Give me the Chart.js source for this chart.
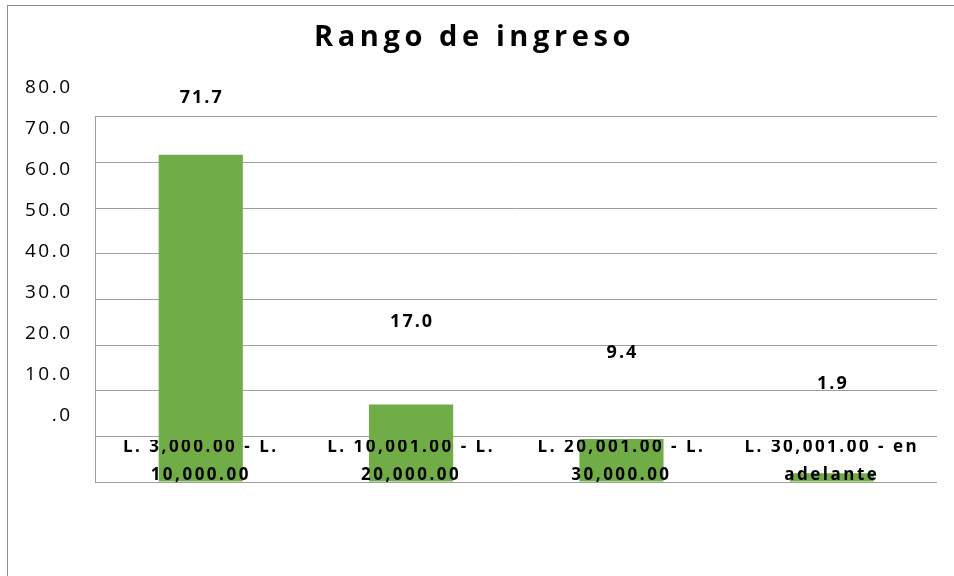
<!DOCTYPE html>
<html>
<head>
<meta charset="utf-8">
<script src="https://cdn.jsdelivr.net/npm/chart.js@4/dist/chart.umd.min.js"></script>
<style>
  html, body { margin: 0; padding: 0; background: #ffffff; overflow: hidden; }
  #wrap { position: relative; width: 954px; height: 576px; }
  #frame { position: absolute; left: 7px; top: 5px; width: 1100px; height: 700px; border: 1px solid #8c8c8c; box-sizing: border-box; }
  #c { position: absolute; left: 0; top: 0; }
</style>
</head>
<body>
<div id="wrap">
  <div id="frame"></div>
  <canvas id="c" width="954" height="576"></canvas>
</div>
<script>
// ---- data ----
const categories = [
  ["L. 3,000.00 - L.", "10,000.00"],
  ["L. 10,001.00 - L.", "20,000.00"],
  ["L. 20,001.00 - L.", "30,000.00"],
  ["L. 30,001.00 - en", "adelante"]
];
const values = [71.7, 17.0, 9.4, 1.9];
const valueLabels = ["71.7", "17.0", "9.4", "1.9"];
const tickValues = [0, 10, 20, 30, 40, 50, 60, 70, 80];
const tickLabels = [".0", "10.0", "20.0", "30.0", "40.0", "50.0", "60.0", "70.0", "80.0"];
const chartTitle = "Rango de ingreso";

const FONT = "'Open Sans', 'Noto Sans', sans-serif";
const GRID = '#9e9e9e';

const spacingPlugin = {
  id: 'spacing',
  beforeDraw(chart) { chart.ctx.letterSpacing = '4.6px'; },
  afterDatasetsDraw(chart) {
    const ctx = chart.ctx;
    const meta = chart.getDatasetMeta(0);
    const y2 = chart.scales.y2;
    ctx.save();
    ctx.letterSpacing = '2px';
    ctx.font = 'bold 18px ' + FONT;
    ctx.fillStyle = '#000000';
    ctx.textAlign = 'center';
    ctx.textBaseline = 'middle';
    meta.data.forEach((bar, i) => {
      const y = y2.getPixelForValue(values[i]) - 24;
      ctx.fillText(valueLabels[i], bar.x + 1, y);
    });
    ctx.restore();
    ctx.letterSpacing = '2.5px';
  },
  afterDraw(chart) { chart.ctx.letterSpacing = '0px'; }
};

new Chart(document.getElementById('c'), {
  type: 'bar',
  data: {
    labels: categories,
    datasets: [{
      data: values,
      backgroundColor: '#70ad47',
      borderWidth: 0,
      barPercentage: 0.4,
      categoryPercentage: 1.0
    }]
  },
  plugins: [spacingPlugin],
  options: {
    responsive: false,
    animation: false,
    layout: { padding: { left: 12, right: 17, top: 0, bottom: 94 } },
    plugins: {
      legend: { display: false },
      tooltip: { enabled: false },
      title: {
        display: true,
        text: chartTitle,
        color: '#000000',
        font: { family: FONT, size: 29, weight: 'bold', lineHeight: 1.2 },
        padding: { top: 20, bottom: 62 }
      }
    },
    scales: {
      x: {
        type: 'category',
        grid: { display: false, drawTicks: false },
        border: { display: false },
        ticks: {
          z: 1,
          autoSkip: false,
          maxRotation: 0,
          minRotation: 0,
          padding: -49,
          color: '#000000',
          font: { family: FONT, size: 17, weight: 'bold', lineHeight: 1.65 }
        }
      },
      y: {
        position: 'left',
        weight: 0,
        min: 0,
        max: 80,
        ticks: { display: false, stepSize: 10 },
        grid: { color: GRID, lineWidth: 1, drawTicks: false },
        border: { display: true, color: GRID, width: 1 }
      },
      y2: {
        position: 'left',
        weight: 1,
        min: -16.1,
        max: 72.9,
        afterBuildTicks: (s) => { s.ticks = tickValues.map(v => ({ value: v })); },
        grid: { display: false, drawTicks: false },
        border: { display: false },
        ticks: {
          z: 1,
          autoSkip: false,
          padding: 23,
          color: '#000000',
          font: { family: FONT, size: 19 },
          callback: (v) => tickLabels[tickValues.indexOf(v)]
        }
      }
    }
  }
});
</script>
</body>
</html>
